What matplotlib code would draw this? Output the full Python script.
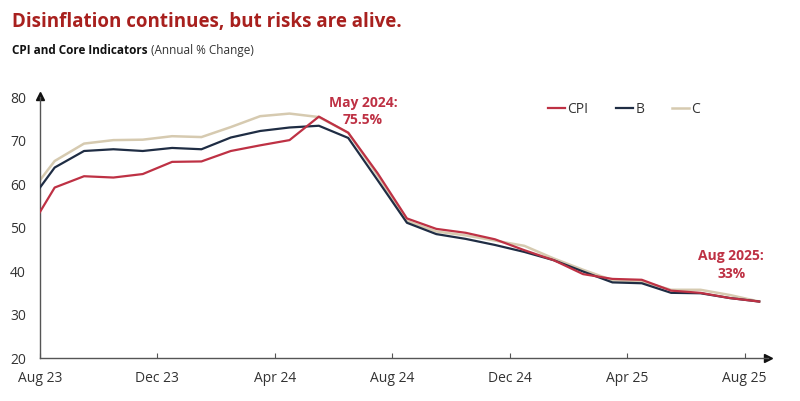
import numpy as np
import matplotlib
matplotlib.use("Agg")
import matplotlib.pyplot as plt

plt.rcParams['font.family'] = ['Open Sans', 'DejaVu Sans']

months = ["Jul 23", "Aug 23", "Sep 23", "Oct 23", "Nov 23", "Dec 23", "Jan 24", "Feb 24",
          "Mar 24", "Apr 24", "May 24", "Jun 24", "Jul 24", "Aug 24", "Sep 24", "Oct 24",
          "Nov 24", "Dec 24", "Jan 25", "Feb 25", "Mar 25", "Apr 25", "May 25", "Jun 25",
          "Jul 25", "Aug 25"]
cpi = [48.0, 59.2, 61.8, 61.5, 62.3, 65.1, 65.2, 67.6, 68.9, 70.1, 75.5, 71.8, 62.5,
       52.1, 49.7, 48.8, 47.3, 44.8, 42.5, 39.3, 38.2, 38.0, 35.5, 35.0, 33.8, 33.0]
b = [54.6, 63.8, 67.6, 68.0, 67.6, 68.3, 68.0, 70.7, 72.2, 73.0, 73.4, 70.6, 60.9,
     51.1, 48.5, 47.4, 46.0, 44.4, 42.5, 39.9, 37.4, 37.2, 35.0, 34.9, 33.8, 33.0]
c = [56.5, 65.3, 69.3, 70.1, 70.2, 71.0, 70.8, 73.1, 75.6, 76.2, 75.4, 71.8, 62.0,
     51.5, 49.1, 48.2, 47.0, 45.8, 42.9, 40.3, 37.9, 37.6, 35.7, 35.7, 34.5, 33.0]
tick_labels = ["Aug 23", "Dec 23", "Apr 24", "Aug 24", "Dec 24", "Apr 25", "Aug 25"]
yticks = [20, 30, 40, 50, 60, 70, 80]

RED = "#BE3144"
NAVY = "#1F2D44"
BEIGE = "#D6CAB0"
TITLE_RED = "#A8201E"

fig = plt.figure(figsize=(8.0, 4.01), dpi=100)
ax = fig.add_axes([0.05, 0.107, 0.91, 0.651])

x = np.arange(len(months)) - 0.5
ax.plot(x, c, color=BEIGE, lw=1.8, label="C", zorder=2)
ax.plot(x, b, color=NAVY, lw=1.6, label="B", zorder=3)
ax.plot(x, cpi, color=RED, lw=1.6, label="CPI", zorder=4)

ax.set_xlim(0, 24.8)
ax.set_ylim(20, 80)

ax.set_yticks(yticks)
ax.set_yticklabels([str(v) for v in yticks])
tick_pos = [months.index(m) - 1 for m in tick_labels]
ax.set_xticks(tick_pos)
ax.set_xticklabels(tick_labels)

for s in ["top", "right"]:
    ax.spines[s].set_visible(False)
for s in ["left", "bottom"]:
    ax.spines[s].set_color("#555555")
    ax.spines[s].set_linewidth(1.0)

ax.tick_params(axis="y", length=0, labelsize=10, colors="#333333", pad=10)
ax.tick_params(axis="x", direction="in", length=3.5, labelsize=10, colors="#333333",
               color="#555555", pad=9)

# axis arrows
ax.plot(1, 0, marker=">", color="#111111", markersize=6, transform=ax.transAxes, clip_on=False)
ax.plot(0, 1.005, marker="^", color="#111111", markersize=6, transform=ax.transAxes, clip_on=False)

handles, labels = ax.get_legend_handles_labels()
order = [2, 1, 0]
leg = ax.legend([handles[i] for i in order], [labels[i] for i in order], ncol=3,
                loc="center", bbox_to_anchor=(0.802, 0.952), frameon=False,
                fontsize=10, handlelength=1.25, handletextpad=0.15, columnspacing=2.0)
for t in leg.get_texts():
    t.set_color("#333333")

i_may = months.index("May 24")
i_aug = months.index("Aug 25")
ax.text(x[i_may] + 1.5, 76.7, "May 2024:\n75.5%", color=RED, fontsize=10,
        fontweight="bold", ha="center", va="center", linespacing=1.3)
ax.text(x[i_aug] - 0.95, 41.4, "Aug 2025:\n33%", color=RED, fontsize=10,
        fontweight="bold", ha="center", va="center", linespacing=1.3)

fig.text(0.015, 0.945, "Disinflation continues, but risks are alive.", color=TITLE_RED,
         fontsize=13.5, fontweight="bold", ha="left", va="center")
t1 = fig.text(0.015, 0.873, "CPI and Core Indicators ", color="#111111", fontsize=8.5,
              fontweight="bold", ha="left", va="center")
fig.canvas.draw()
bb = t1.get_window_extent()
x2 = bb.x1 / fig.bbox.width
fig.text(x2, 0.873, "(Annual % Change)", color="#333333", fontsize=8.5, ha="left", va="center")

fig.savefig("out.png", dpi=100)
